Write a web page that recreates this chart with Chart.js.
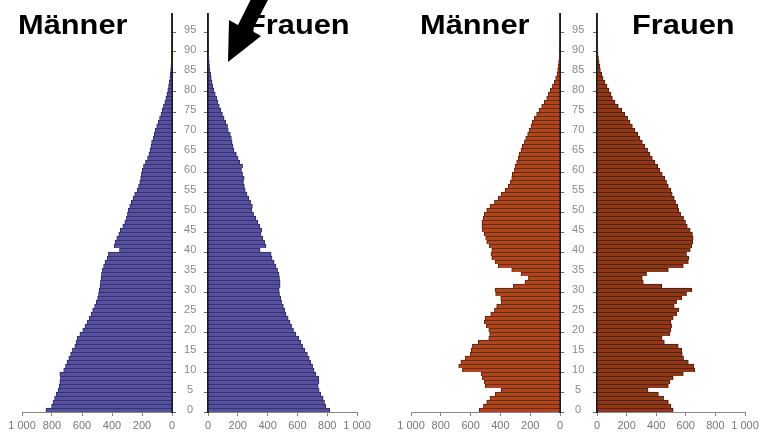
<!DOCTYPE html>
<html lang="de">
<head>
<meta charset="utf-8">
<script src="https://cdn.jsdelivr.net/npm/chart.js@4/dist/chart.umd.min.js"></script>
<style>
  html, body { margin: 0; padding: 0; background: #fff; }
  #stage { position: relative; width: 760px; height: 432px; overflow: hidden; background: #fff; }
  #clip  { position: absolute; left: 0; top: 13px; width: 760px; height: 419px; overflow: hidden; }
  #clip canvas { position: absolute; top: -13px; }
  .title {
    position: absolute; top: 11px; color: #000; white-space: nowrap;
    font: bold 28px "Liberation Sans", Arial, sans-serif; line-height: 28px;
    transform: scaleX(1.1); transform-origin: left top;
  }
  #arrow { position: absolute; left: 0; top: 0; }
</style>
</head>
<body>
<div id="stage">
  <div id="clip">
    <canvas id="male-a"   width="208" height="432" style="left:0"></canvas>
    <canvas id="female-a" width="208" height="432" style="left:172px"></canvas>
    <canvas id="male-b"   width="208" height="432" style="left:389px"></canvas>
    <canvas id="female-b" width="200" height="432" style="left:560px"></canvas>
  </div>
  <div class="title" style="left:18px">Männer</div>
  <div class="title" style="left:247px">Frauen</div>
  <div class="title" style="left:420px">Männer</div>
  <div class="title" style="left:632px">Frauen</div>
  <svg id="arrow" width="760" height="432">
    <polygon fill="#000" points="228,62 261,36 252,31 270,-4 256,-11 238,25 229,20"/>
  </svg>
</div>

<script>
// ── Data ───────────────────────────────────────────────
const AGES = [
  0, 1, 2, 3, 4, 5, 6, 7, 8, 9, 10, 11, 12, 13, 14, 15, 16, 17, 18, 19,
  20, 21, 22, 23, 24, 25, 26, 27, 28, 29, 30, 31, 32, 33, 34, 35, 36, 37, 38, 39,
  40, 41, 42, 43, 44, 45, 46, 47, 48, 49, 50, 51, 52, 53, 54, 55, 56, 57, 58, 59,
  60, 61, 62, 63, 64, 65, 66, 67, 68, 69, 70, 71, 72, 73, 74, 75, 76, 77, 78, 79,
  80, 81, 82, 83, 84, 85, 86, 87, 88, 89, 90, 91, 92, 93, 94, 95, 96, 97, 98, 99, 100
];
const X_TICKS = [0, 200, 400, 600, 800, 1000];

// left pyramid (blue)
const MALE_A = [
  840, 803, 793, 783, 772, 760, 752, 748, 744, 748,
  722, 710, 700, 688, 676, 664, 648, 640, 632, 614,
  595, 580, 566, 552, 540, 529, 516, 505, 496, 490,
  485, 480, 477, 473, 470, 464, 456, 447, 432, 424,
  350, 386, 380, 368, 355, 345, 328, 315, 304, 297,
  292, 282, 271, 260, 249, 232, 223, 215, 209, 204,
  198, 190, 177, 163, 154, 147, 141, 136, 125, 118,
  112, 102, 92, 83, 74, 65, 57, 48, 41, 34,
  28, 23, 18, 14, 11, 9, 7, 5, 4, 3,
  2, 2, 1, 1, 1, 1, 1, 1, 1, 1, 1
];
const FEMALE_A = [
  818, 790, 782, 773, 758, 746, 740, 745, 744, 724,
  712, 702, 690, 679, 667, 650, 635, 623, 610, 590,
  574, 561, 551, 538, 524, 516, 506, 494, 488, 480,
  478, 484, 484, 480, 477, 467, 456, 444, 430, 424,
  350, 390, 380, 368, 356, 360, 348, 334, 320, 306,
  295, 298, 286, 274, 262, 250, 244, 238, 243, 232,
  225, 232, 213, 202, 190, 174, 168, 162, 157, 150,
  136, 131, 119, 108, 97, 86, 76, 67, 58, 49,
  40, 32, 27, 22, 18, 13, 10, 8, 6, 5,
  4, 3, 2, 2, 1, 1, 1, 1, 1, 1, 1
];

// right pyramid (red)
const MALE_B = [
  543, 514, 492, 470, 436, 395, 503, 508, 521, 530,
  655, 680, 665, 637, 604, 597, 588, 548, 478, 472,
  478, 495, 508, 503, 465, 440, 425, 395, 398, 432,
  436, 313, 235, 212, 262, 324, 414, 436, 458, 463,
  458, 476, 492, 499, 508, 521, 524, 524, 516, 508,
  492, 470, 440, 414, 396, 369, 347, 335, 324, 320,
  306, 302, 291, 280, 275, 262, 253, 239, 230, 217,
  208, 195, 186, 172, 157, 141, 123, 105, 89, 78,
  65, 51, 38, 29, 20, 16, 12, 9, 6, 4,
  3, 2, 2, 1, 1, 1, 1, 1, 1, 1, 1
];
const FEMALE_B = [
  515, 500, 482, 450, 415, 345, 482, 493, 515, 583,
  660, 655, 617, 585, 576, 572, 549, 455, 440, 493,
  500, 504, 500, 515, 538, 554, 522, 538, 572, 605,
  640, 437, 313, 306, 335, 482, 583, 617, 621, 605,
  630, 640, 648, 650, 645, 630, 610, 598, 585, 565,
  552, 545, 531, 522, 508, 500, 482, 470, 459, 441,
  425, 410, 392, 374, 358, 342, 324, 306, 290, 275,
  257, 239, 223, 207, 189, 167, 144, 122, 104, 95,
  81, 68, 54, 41, 32, 23, 18, 14, 10, 7,
  5, 3, 2, 2, 1, 1, 1, 1, 1, 1, 1
];

// ── Helpers ────────────────────────────────────────────
const FONT = '"Liberation Sans", Arial, sans-serif';
const fmt  = v => String(v).replace(/\B(?=(\d{3})+(?!\d))/g, ' ');

// one half of a pyramid; the male half carries the age labels
function half(id, values, isMale, fill, line, gap, padL, padR) {
  new Chart(document.getElementById(id), {
    type: 'bar',
    data: {
      labels: AGES,
      datasets: [{
        data: values,
        backgroundColor: fill,
        borderColor: line,
        borderWidth: { top: 1, right: 1, bottom: 0, left: 1 },
        barPercentage: 1,
        categoryPercentage: 1
      }]
    },
    options: {
      indexAxis: 'y',
      responsive: false,
      animation: false,
      devicePixelRatio: 1,
      layout: { padding: { top: 8, bottom: 0, left: padL, right: padR } },
      plugins: { legend: { display: false }, tooltip: { enabled: false } },
      scales: {
        x: {
          type: 'linear', min: 0, max: 1000, reverse: isMale,
          afterBuildTicks: s => { s.ticks = X_TICKS.map(v => ({ value: v })); },
          afterFit: s => { s.height = 20; s.paddingLeft = 0; s.paddingRight = 0; },
          ticks: {
            autoSkip: false, maxRotation: 0, padding: 3, color: '#777',
            font: { family: FONT, size: 11 },
            callback: v => fmt(v)
          },
          grid: { drawOnChartArea: false, tickLength: 4, color: '#888' },
          border: { color: '#888' }
        },
        y: {
          type: 'category', reverse: true,
          position: isMale ? 'right' : 'left',
          afterFit: s => { s.width = gap; s.paddingTop = 0; s.paddingBottom = 0; },
          ticks: {
            display: isMale, autoSkip: false, crossAlign: 'center', padding: 5,
            color: '#8a8a8a', font: { family: FONT, size: 11 },
            callback: v => (AGES[v] % 5 === 0 ? String(AGES[v]) : '')
          },
          grid: {
            drawOnChartArea: false, tickLength: 4,
            color: c => (c.index % 5 === 0 ? '#666' : 'rgba(0,0,0,0)')
          },
          border: { color: '#1a1a1a', width: 2 }
        }
      }
    }
  });
}

// ── Charts ─────────────────────────────────────────────
half('male-a',   MALE_A,   true,  '#56519f', '#2c2866', 36, 22, 0);
half('female-a', FEMALE_A, false, '#56519f', '#2c2866', 36, 0, 23);
half('male-b',   MALE_B,   true,  '#b4421c', '#5e1d09', 37, 22, 0);
half('female-b', FEMALE_B, false, '#943518', '#4e1908', 37, 0, 15);
</script>
</body>
</html>
